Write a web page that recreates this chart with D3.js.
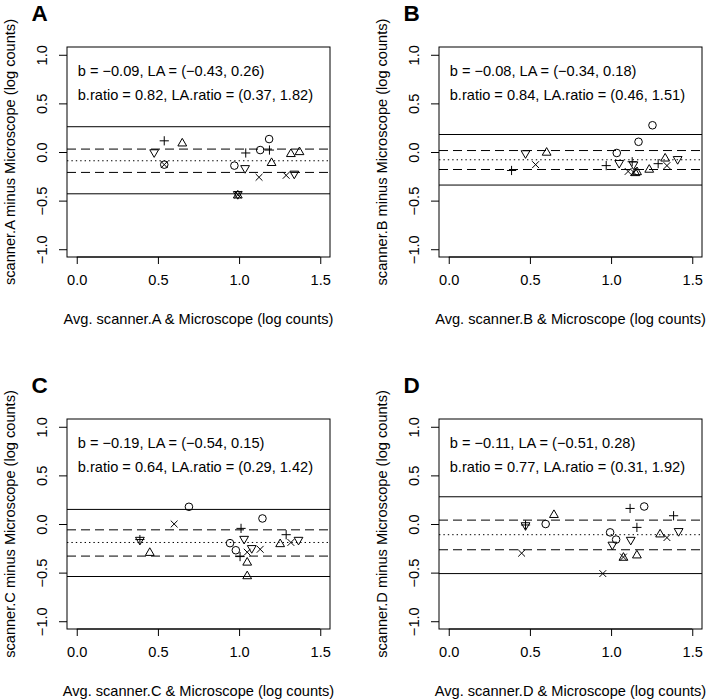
<!DOCTYPE html>
<html>
<head>
<meta charset="utf-8">
<script src="https://cdn.jsdelivr.net/npm/d3@7"></script>
<style>
  html, body { margin: 0; padding: 0; background: #fff; }
  svg { display: block; }
  text { font-family: "Liberation Sans", Arial, Helvetica, sans-serif; fill: #000; }
</style>
</head>
<body>
<svg id="chart" width="706" height="699"></svg>
<script>
// ---------------- data ----------------
const panelLetters = ["A", "B", "C", "D"];
const scannerNames = ["scanner.A", "scanner.B", "scanner.C", "scanner.D"];
const xTicks = [0, 0.5, 1.0, 1.5];
const yTicks = [-1.0, -0.5, 0.0, 0.5, 1.0];

const bias      = [-0.09, -0.08, -0.19, -0.11];
const laLower   = [-0.43, -0.34, -0.54, -0.51];
const laUpper   = [0.26, 0.18, 0.15, 0.28];
const ciLower   = [-0.21, -0.18, -0.33, -0.265];
const ciUpper   = [0.03, 0.015, -0.06, 0.04];
const biasRatio = [0.82, 0.84, 0.64, 0.77];
const laRatioLo = [0.37, 0.46, 0.29, 0.31];
const laRatioHi = [1.82, 1.51, 1.42, 1.92];

// shapes: o circle, t triangle up, v triangle down, p plus, x cross
const aX = [0.477, 0.539, 0.65, 0.539, 0.539, 0.971, 1.037, 1.041, 0.992, 0.992, 0.992, 1.13, 1.185, 1.187, 1.20, 1.123, 1.319, 1.372, 1.29, 1.34];
const aY = [-0.01, 0.115, 0.095, -0.13, -0.13, -0.14, -0.173, -0.01, -0.44, -0.44, -0.44, 0.02, 0.133, 0.02, -0.106, -0.26, -0.014, 0.006, -0.24, -0.23];
const aS = ["v", "p", "t", "o", "x", "o", "v", "p", "v", "t", "x", "o", "o", "p", "t", "x", "t", "t", "x", "v"];

const bX = [0.473, 0.603, 0.535, 0.387, 1.035, 1.169, 1.255, 0.97, 1.05, 1.13, 1.138, 1.105, 1.15, 1.16, 1.14, 1.235, 1.29, 1.333, 1.344, 1.41];
const bY = [-0.02, 0.0, -0.13, -0.19, -0.01, 0.105, 0.275, -0.14, -0.12, -0.10, -0.135, -0.2, -0.21, -0.2, -0.21, -0.175, -0.12, -0.06, -0.14, -0.08];
const bS = ["v", "t", "x", "p", "o", "o", "o", "p", "v", "p", "v", "x", "t", "t", "x", "t", "p", "t", "x", "v"];

const cX = [0.691, 0.60, 0.389, 0.389, 0.45, 0.944, 0.98, 1.012, 1.031, 1.006, 1.05, 1.078, 1.13, 1.05, 1.05, 1.144, 1.253, 1.29, 1.319, 1.366];
const cY = [0.177, 0.0, -0.17, -0.16, -0.29, -0.197, -0.27, -0.045, -0.16, -0.335, -0.29, -0.255, -0.26, -0.39, -0.53, 0.057, -0.2, -0.11, -0.19, -0.17];
const cS = ["o", "x", "v", "p", "t", "o", "o", "p", "v", "p", "x", "v", "x", "t", "t", "o", "t", "p", "x", "v"];

const dX = [0.473, 0.473, 0.597, 0.648, 0.449, 0.949, 0.994, 1.031, 1.008, 1.076, 1.076, 1.121, 1.159, 1.117, 1.204, 1.159, 1.302, 1.344, 1.385, 1.416];
const dY = [-0.02, -0.01, 0.0, 0.10, -0.30, -0.51, -0.086, -0.16, -0.22, -0.34, -0.34, -0.17, -0.316, 0.16, 0.18, -0.035, -0.10, -0.14, 0.085, -0.08];
const dS = ["v", "p", "o", "t", "x", "x", "o", "o", "v", "t", "x", "v", "t", "p", "o", "p", "t", "x", "p", "v"];

const panelX = [aX, bX, cX, dX];
const panelY = [aY, bY, cY, dY];
const panelS = [aS, bS, cS, dS];

// ---------------- drawing ----------------
const svg = d3.select("#chart");
const FS = 14.6;
const fmt2 = d3.format(".2f");

const box = { left: 67, right: 330, top: 47, bottom: 257 };
const x = d3.scaleLinear().domain([-0.06, 1.56]).range([box.left, box.right]);
const y = d3.scaleLinear().domain([-1.08, 1.08]).range([box.bottom, box.top]);

function symbolPath(s) {
  const p = d3.path();
  if (s === "o") {
    p.moveTo(3.8, 0); p.arc(0, 0, 3.8, 0, 2 * Math.PI);
  } else if (s === "t") {
    p.moveTo(0, -4.4); p.lineTo(4.4, 3.2); p.lineTo(-4.4, 3.2); p.closePath();
  } else if (s === "v") {
    p.moveTo(0, 4.4); p.lineTo(4.4, -3.2); p.lineTo(-4.4, -3.2); p.closePath();
  } else if (s === "p") {
    p.moveTo(-4.6, 0); p.lineTo(4.6, 0); p.moveTo(0, -4.6); p.lineTo(0, 4.6);
  } else if (s === "x") {
    p.moveTo(-3.4, -3.4); p.lineTo(3.4, 3.4); p.moveTo(-3.4, 3.4); p.lineTo(3.4, -3.4);
  }
  return p.toString();
}

panelLetters.forEach((letter, i) => {
  const col = i % 2, row = Math.floor(i / 2);
  const g = svg.append("g").attr("transform", `translate(${col * 372},${row * 372})`);

  // reference lines
  const hlines = [
    { v: laUpper[i], dash: null },
    { v: laLower[i], dash: null },
    { v: ciUpper[i], dash: "9,5" },
    { v: ciLower[i], dash: "9,5" },
    { v: bias[i], dash: "1.4,3" }
  ];
  g.selectAll("line.h").data(hlines).join("line")
    .attr("class", "h")
    .attr("x1", box.left).attr("x2", box.right)
    .attr("y1", d => y(d.v)).attr("y2", d => y(d.v))
    .attr("stroke", "#000").attr("stroke-width", 1)
    .attr("stroke-dasharray", d => d.dash);

  // points
  const pts = panelX[i].map((xv, k) => ({ x: xv, y: panelY[i][k], s: panelS[i][k] }));
  g.selectAll("path.pt").data(pts).join("path")
    .attr("class", "pt")
    .attr("transform", d => `translate(${x(d.x)},${y(d.y)})`)
    .attr("d", d => symbolPath(d.s))
    .attr("fill", "none").attr("stroke", "#000").attr("stroke-width", 1);

  // box
  g.append("rect")
    .attr("x", box.left).attr("y", box.top)
    .attr("width", box.right - box.left).attr("height", box.bottom - box.top)
    .attr("fill", "none").attr("stroke", "#000").attr("stroke-width", 1);

  // x axis
  const xa = g.append("g").attr("transform", `translate(0,${box.bottom})`)
    .call(d3.axisBottom(x).tickValues(xTicks).tickSize(7).tickSizeOuter(0).tickPadding(11)
      .tickFormat(d3.format(".1f")));
  xa.select(".domain").remove();
  xa.selectAll("line").attr("stroke", "#000");
  xa.selectAll("text").attr("font-size", FS).attr("font-family", null).attr("fill", "#000");
  xa.append("line").attr("x1", x(xTicks[0])).attr("x2", x(xTicks[xTicks.length - 1]))
    .attr("stroke", "#000");

  // y axis
  const ya = g.append("g").attr("transform", `translate(${box.left},0)`)
    .call(d3.axisLeft(y).tickValues(yTicks).tickSize(8).tickSizeOuter(0)
      .tickFormat(d3.format(".1f")));
  ya.select(".domain").remove();
  ya.selectAll("line").attr("stroke", "#000");
  ya.selectAll("text")
    .attr("x", null).attr("dy", null)
    .attr("transform", "translate(-20.5,0) rotate(-90)")
    .attr("text-anchor", "middle")
    .attr("font-size", FS).attr("font-family", null).attr("fill", "#000");

  // axis titles
  g.append("text")
    .attr("x", (box.left + box.right) / 2).attr("y", 324)
    .attr("text-anchor", "middle").attr("font-size", FS)
    .text(`Avg. ${scannerNames[i]} & Microscope (log counts)`);
  g.append("text")
    .attr("transform", `translate(15,${(box.top + box.bottom) / 2}) rotate(-90)`)
    .attr("text-anchor", "middle").attr("font-size", FS)
    .text(`${scannerNames[i]} minus Microscope (log counts)`);

  // statistics text
  g.append("text")
    .attr("x", x(0) + 1).attr("y", 76).attr("font-size", FS)
    .text(`b = ${fmt2(bias[i])}, LA = (${fmt2(laLower[i])}, ${fmt2(laUpper[i])})`);
  g.append("text")
    .attr("x", x(0) + 1).attr("y", 99.5).attr("font-size", FS)
    .text(`b.ratio = ${fmt2(biasRatio[i])}, LA.ratio = (${fmt2(laRatioLo[i])}, ${fmt2(laRatioHi[i])})`);

  // panel letter
  g.append("text")
    .attr("x", 31.5).attr("y", 20.5)
    .attr("font-size", 22.5).attr("font-weight", "bold")
    .text(letter);
});
</script>
</body>
</html>
